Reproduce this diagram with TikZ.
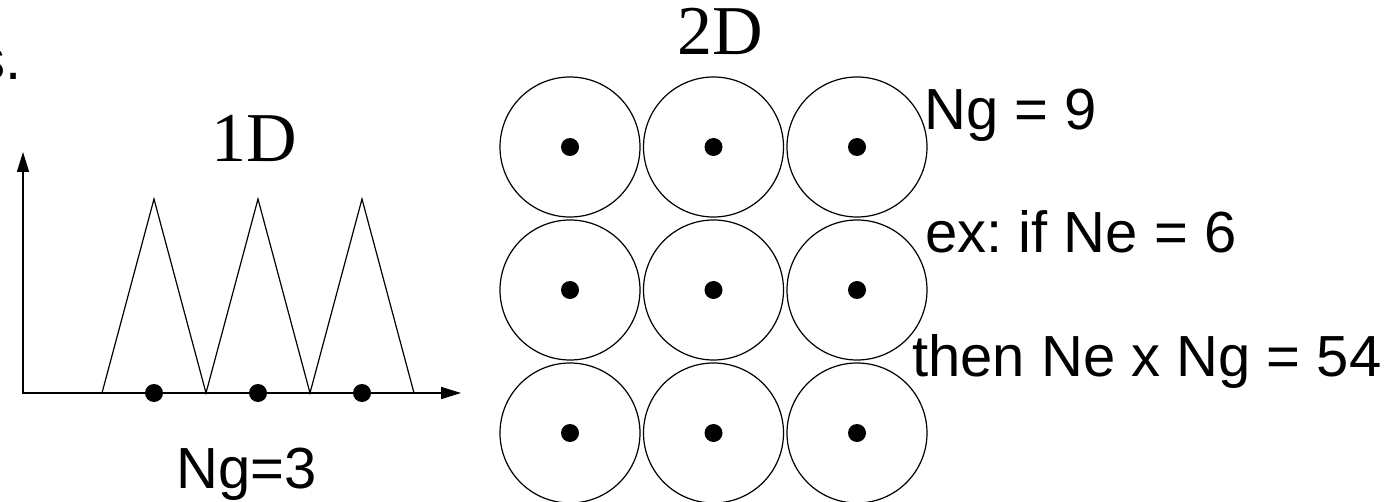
\documentclass[tikz,border=0pt]{standalone}
\usepackage{fontspec}
\setmainfont{Liberation Sans}
\newfontfamily\serifTimes{Liberation Serif}
\usetikzlibrary{arrows.meta}
\frenchspacing
\begin{document}
\begin{tikzpicture}[x=1pt,y=-1pt,
  dot/.style={circle,fill=black,inner sep=0pt,minimum size=18pt},
  cell/.style={circle,draw=black,line width=1.2pt,inner sep=0pt,minimum size=140pt},
  axis/.style={line width=1.6pt},
  tri/.style={line width=1.2pt},
  sans/.style={font=\fontsize{58}{60}\selectfont,inner sep=0pt},
  title/.style={font=\serifTimes\fontsize{70}{72}\selectfont,inner sep=0pt},
  tip/.tip={Triangle[length=20pt,width=12pt]}]
\useasboundingbox (0,0) rectangle (1386,502);
% cut-off text at the top left
\node[sans,anchor=base west] (cut) at (-24,80) {s.};
% ---------- 1D ----------
\node[title,anchor=base] (t1) at (254,162) {1D};
\coordinate (o) at (23,393);
\coordinate (ytip) at (23,152);
\coordinate (xtip) at (461,393);
\draw[axis,tip-tip] (ytip) -- (o) -- (xtip);
\coordinate (b0) at (102,393);
\coordinate (b1) at (206,393);
\coordinate (b2) at (310,393);
\coordinate (b3) at (414,393);
\coordinate (p1) at (154,199);
\coordinate (p2) at (258,199);
\coordinate (p3) at (362,199);
\draw[tri] (b0) -- (p1) -- (b1) -- (p2) -- (b2) -- (p3) -- (b3);
\node[dot] (d1) at (154,393) {};
\node[dot] (d2) at (258,393) {};
\node[dot] (d3) at (362,393) {};
\node[sans,anchor=base] (ng3) at (247,488) {Ng=3};
% ---------- 2D ----------
\node[title,anchor=base] (t2) at (720,55) {2D};
\foreach \r/\y in {1/147,2/290,3/433}{
  \foreach \c/\x in {1/570,2/713.5,3/857}{
    \node[cell] (c\r\c) at (\x,\y) {};
    \node[dot] (g\r\c) at (c\r\c.center) {};
  }
}
% ---------- text ----------
\node[sans,anchor=base west] (l1) at (924,130) {Ng = 9};
\node[sans,anchor=base west] (l2) at (925,253) {ex: if Ne = 6};
\node[sans,anchor=base west] (l3) at (912,377) {then Ne x Ng = 54};
\end{tikzpicture}
\end{document}
